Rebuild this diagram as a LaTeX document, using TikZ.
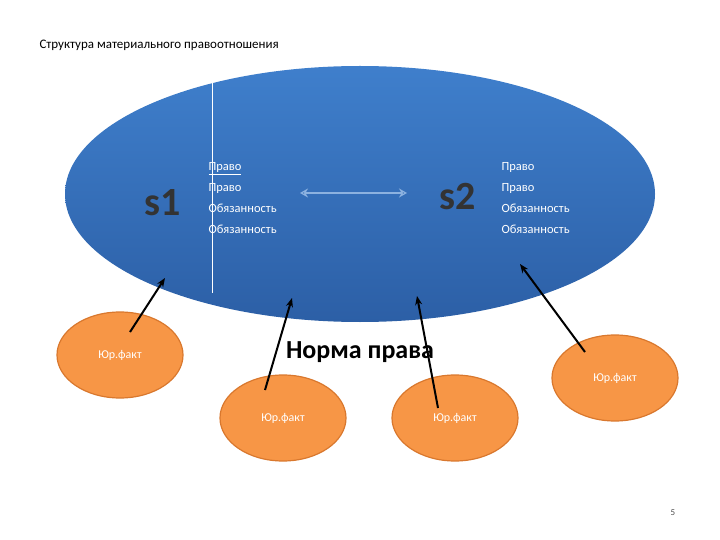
\documentclass[tikz,border=0pt]{standalone}
\usepackage{fontspec}
\setmainfont{Carlito}
\usetikzlibrary{shapes.geometric,arrows.meta}
\definecolor{btop}{HTML}{3F7FCC}
\definecolor{bbot}{HTML}{2C5FA6}
\definecolor{ofill}{HTML}{F79646}
\definecolor{oline}{HTML}{D9782E}
\tikzset{
 fact/.style={ellipse,fill=ofill,draw=oline,line width=1.2pt,minimum width=126pt,minimum height=86pt,text=white,font=\fontsize{12}{14}\selectfont},
 arr/.style={-{Stealth[length=9pt,width=7pt]},line width=2pt,black},
 lst/.style={text=white,font=\fontsize{12.5}{21}\selectfont,align=left,anchor=west},
 big/.style={font=\fontsize{40}{40}\selectfont\bfseries,text=black!80,draw=none}
}
\begin{document}
\begin{tikzpicture}[x=1pt,y=-1pt]
\useasboundingbox (0,0) rectangle (720,540);
\node[ellipse,minimum width=590pt,minimum height=256pt,top color=btop,bottom color=bbot,draw=none] (big) at (360,194) {};
\draw[white,line width=0.8pt] (212,83) -- (212,293);
\node[anchor=west,font=\fontsize{13}{15}\selectfont] (title) at (36,45) {Структура материального правоотношения};
\node[big] (s1) at (163,203) {s1};
\node[big] (s2) at (458,197) {s2};
\node[lst] (l1) at (205,198) {\underline{Право}\\Право\\Обязанность\\Обязанность};
\node[lst] (l2) at (498,198) {Право\\Право\\Обязанность\\Обязанность};
\coordinate (da) at (300,193); \coordinate (db) at (407,193);
\draw[{Stealth[length=8pt,width=9pt,open]}-{Stealth[length=8pt,width=9pt,open]},line width=1.2pt,color=btop!60!white] (da) -- (db);
\node[fact] (f1) at (120,355) {Юр.факт};
\node[fact] (f2) at (283,418) {Юр.факт};
\node[fact] (f3) at (455,418) {Юр.факт};
\node[fact] (f4) at (615,378) {Юр.факт};
\node[font=\fontsize{26}{28}\selectfont\bfseries] (norm) at (360,352) {Норма права};
\coordinate (e1) at (165,278); \coordinate (e2) at (292,298);
\coordinate (e3) at (417,296); \coordinate (e4) at (520,264);
\coordinate (a1) at (130,332); \coordinate (a2) at (265,390);
\coordinate (a3) at (438,408); \coordinate (a4) at (585,352);
\draw[arr] (a1) -- (e1);
\draw[arr] (a2) -- (e2);
\draw[arr] (a3) -- (e3);
\draw[arr] (a4) -- (e4);
\node[font=\fontsize{9}{10}\selectfont,text=black!70] (pg) at (673,513) {5};
\end{tikzpicture}
\end{document}
